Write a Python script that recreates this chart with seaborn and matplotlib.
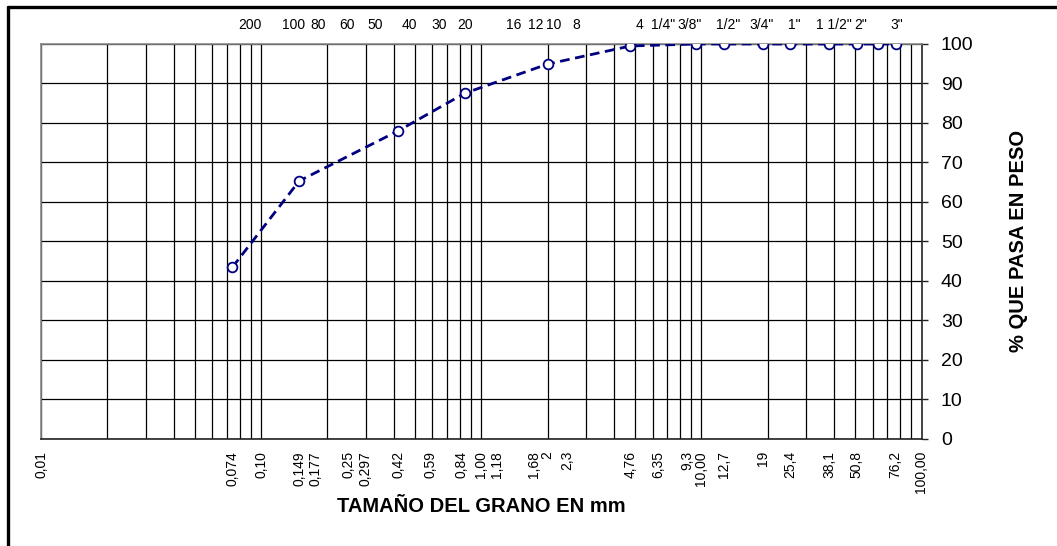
import matplotlib
matplotlib.use("Agg")
import matplotlib.pyplot as plt
import matplotlib.transforms as mtransforms
import seaborn as sns
import pandas as pd
from matplotlib.lines import Line2D

# --- datos de la curva granulométrica ---
abertura_mm = [0.074, 0.149, 0.42, 0.84, 2.0, 4.76, 9.5, 12.7, 19.0, 25.4, 38.1, 50.8, 63.5, 76.2]
pasa_pct = [43.4, 65.3, 78.0, 87.5, 94.9, 99.5, 100, 100, 100, 100, 100, 100, 100, 100]

# tamices (etiquetas superiores) y dónde aparecen en el gráfico (mm)
tamiz_nombre = ["200", "100", "80", "60", "50", "40", "30", "20", "16", "12", "10", "8",
                "4", '1/4"', '3/8"', '1/2"', '3/4"', '1"', '1 1/2"', '2"', '3"']
tamiz_pos_mm = [0.089, 0.141, 0.181, 0.245, 0.33, 0.47, 0.647, 0.844, 1.41, 1.77, 2.13, 2.71,
                5.23, 6.72, 8.85, 13.2, 18.8, 26.4, 39.9, 53.1, 77.3]

# etiquetas del eje inferior
xtick_vals = [0.01, 0.074, 0.10, 0.149, 0.177, 0.25, 0.297, 0.42, 0.59, 0.84, 1.00, 1.18,
              1.68, 2, 2.3, 4.76, 6.35, 9.3, 10.0, 12.7, 19, 25.4, 38.1, 50.8, 76.2, 100.0]
xtick_txt = ["0,01", "0,074", "0,10", "0,149", "0,177", "0,25", "0,297", "0,42", "0,59",
             "0,84", "1,00", "1,18", "1,68", "2", "2,3", "4,76", "6,35", "9,3", "10,00",
             "12,7", "19", "25,4", "38,1", "50,8", "76,2", "100,00"]

ytick_vals = list(range(0, 101, 10))

df = pd.DataFrame({"mm": abertura_mm, "pasa": pasa_pct})

sns.set_style("white")
plt.rcParams["font.family"] = ["Liberation Sans", "DejaVu Sans"]
plt.rcParams["text.color"] = "black"
plt.rcParams["xtick.color"] = "black"
plt.rcParams["ytick.color"] = "black"

fig = plt.figure(figsize=(10.57, 5.46), dpi=100)
ax = fig.add_axes([41 / 1057, 1 - 438.5 / 546, (921.5 - 41) / 1057, (438.5 - 44) / 546])

# cuadrícula logarítmica (1..9 por década)
for dec in [0.01, 0.1, 1, 10]:
    for k in range(1, 10):
        ax.axvline(k * dec, color="black", lw=0.9, zorder=1)
for v in ytick_vals:
    ax.axhline(v, color="black", lw=0.9, zorder=1)

sns.lineplot(data=df, x="mm", y="pasa", ax=ax, color="#000080", linestyle="--",
             linewidth=2.0, dashes=False, marker="o", markersize=7,
             markerfacecolor="white", markeredgecolor="#000080", markeredgewidth=1.3,
             zorder=3)
ax.lines[-1].set_dashes([3.5, 2])

ax.set_xscale("log")
ax.set_xlim(0.01, 100)
ax.set_ylim(0, 100)

# eje x inferior
ax.set_xticks(xtick_vals, xtick_txt, rotation=90, fontsize=10)
ax.tick_params(axis="x", which="major", length=0, pad=9)
ax.set_xticks([0.01, 0.1, 1, 10, 100], minor=True)
ax.set_xticklabels([], minor=True)
ax.tick_params(axis="x", which="minor", length=5, width=1, color="#444444", direction="out")

# pequeños desplazamientos para que no se pisen las etiquetas
nudge_px = {"9,3": -7, "0,84": -3, "2,3": 6, "1,68": 3}
for lab in ax.get_xticklabels():
    dx = nudge_px.get(lab.get_text(), 0)
    if dx:
        lab.set_transform(lab.get_transform() + mtransforms.ScaledTranslation(dx / 100, 0, fig.dpi_scale_trans))

# eje y a la derecha
ax.yaxis.tick_right()
ax.set_yticks(ytick_vals)
ax.tick_params(axis="y", labelsize=14, length=4, width=1, color="#222222",
               direction="out", pad=10, right=True, left=False)
ax.set_ylabel("")
ax.set_xlabel("")

for s in ["top", "left"]:
    ax.spines[s].set_color("#888888")
    ax.spines[s].set_linewidth(1.2)
for s in ["bottom", "right"]:
    ax.spines[s].set_color("#222222")
    ax.spines[s].set_linewidth(1.2)

# números de tamiz arriba
trans = ax.get_xaxis_transform()
for nombre, mm in zip(tamiz_nombre, tamiz_pos_mm):
    ax.text(mm, 1.048, nombre, transform=trans, ha="center", va="center", fontsize=10)

fig.text(481 / 1057, 1 - 507 / 546, "TAMAÑO DEL GRANO EN mm", ha="center", va="center",
         fontsize=14.5, fontweight="bold")
fig.text(1018 / 1057, 1 - 241 / 546, "% QUE PASA EN PESO", ha="center", va="center",
         rotation=90, fontsize=14.5, fontweight="bold")

# marco exterior (solo arriba e izquierda visibles)
fx, fy = 7.5 / 1057, 1 - 6.5 / 546
fig.add_artist(Line2D([fx, 1.0], [fy, fy], color="black", lw=2.4))
fig.add_artist(Line2D([fx, fx], [0.0, fy], color="black", lw=2.4))

fig.savefig("out.png", dpi=100)
